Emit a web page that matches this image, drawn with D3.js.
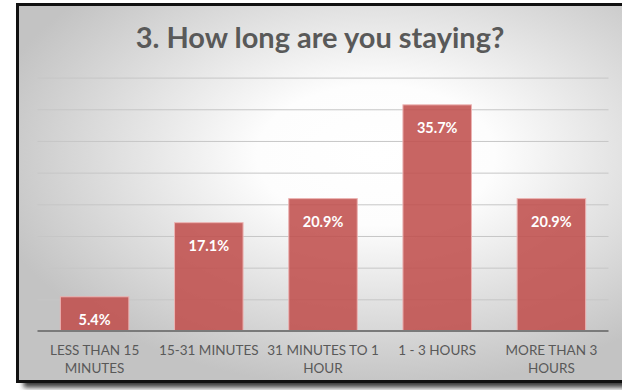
<!DOCTYPE html>
<html>
<head>
<meta charset="utf-8">
<script src="https://cdn.jsdelivr.net/npm/d3@7"></script>
<style>
  html, body { margin: 0; padding: 0; background: #ffffff; }
  svg { display: block; }
</style>
</head>
<body>
<svg id="chart" width="622" height="390"></svg>
<script>
// Survey question and answers
const chartTitle = "3. How long are you staying?";
const categories = ["LESS THAN 15 MINUTES", "15-31 MINUTES", "31 MINUTES TO 1 HOUR", "1 - 3 HOURS", "MORE THAN 3 HOURS"];
const shares = [5.4, 17.1, 20.9, 35.7, 20.9];
const gridTicks = [0, 5, 10, 15, 20, 25, 30, 35, 40];

const W = 622, H = 390;
const frame = { x: 17.5, y: 4.5, w: 640, h: 377 };
const plot = { left: 37.5, right: 608.5, top: 77.6, bottom: 331 };
const font = "Lato, 'Open Sans', sans-serif";

const svg = d3.select("#chart");
const defs = svg.append("defs");

// soft radial wash behind the chart
const bg = defs.append("radialGradient").attr("id", "bgWash")
  .attr("cx", "0.56").attr("cy", "0.4").attr("r", "0.62");
bg.append("stop").attr("offset", "0").attr("stop-color", "#ffffff");
bg.append("stop").attr("offset", "0.3").attr("stop-color", "#fdfdfd");
bg.append("stop").attr("offset", "1").attr("stop-color", "#c3c3c3");

const shadow = defs.append("filter").attr("id", "frameShadow")
  .attr("x", "-5%").attr("y", "-5%").attr("width", "115%").attr("height", "115%");
shadow.append("feGaussianBlur").attr("stdDeviation", 2.5);

// drop shadow under the frame
svg.append("rect")
  .attr("x", frame.x + 6).attr("y", frame.y + 6)
  .attr("width", frame.w).attr("height", frame.h)
  .attr("fill", "#3a3a3a").attr("filter", "url(#frameShadow)");

svg.append("rect")
  .attr("x", frame.x).attr("y", frame.y)
  .attr("width", frame.w).attr("height", frame.h)
  .attr("fill", "url(#bgWash)")
  .attr("stroke", "#111111").attr("stroke-width", 3);

const x = d3.scaleBand().domain(categories)
  .range([plot.left, plot.right]).paddingInner(0.4).paddingOuter(0.2);
const y = d3.scaleLinear().domain([0, 40]).range([plot.bottom, plot.top]);

// horizontal gridlines
svg.append("g")
  .attr("transform", `translate(${plot.left},0)`)
  .call(d3.axisLeft(y).tickValues(gridTicks.slice(1)).tickSize(-(plot.right - plot.left)).tickFormat(""))
  .call(g => g.select(".domain").remove())
  .call(g => g.selectAll(".tick line").attr("stroke", "#c6c6c6").attr("stroke-width", 1));

// bars
svg.append("g").selectAll("rect")
  .data(shares)
  .join("rect")
  .attr("x", (d, i) => x(categories[i]))
  .attr("y", d => y(d))
  .attr("width", x.bandwidth())
  .attr("height", d => y(0) - y(d))
  .attr("fill", "#c0504d").attr("fill-opacity", 0.88)
  .attr("stroke", "#ecb4b3").attr("stroke-width", 1);

// value labels inside the bar tops
svg.append("g").selectAll("text")
  .data(shares)
  .join("text")
  .attr("x", (d, i) => x(categories[i]) + x.bandwidth() / 2)
  .attr("y", d => y(d) + 28)
  .attr("text-anchor", "middle")
  .attr("font-family", font).attr("font-weight", 700).attr("font-size", 14.5)
  .attr("fill", "#ffffff")
  .text(d => d.toFixed(1) + "%");

// category axis
const xAxis = svg.append("g")
  .attr("transform", `translate(0,${plot.bottom})`)
  .call(d3.axisBottom(x).tickSize(0).tickPadding(14));
xAxis.select(".domain").attr("stroke", "#7a7a7a").attr("stroke-width", 2)
  .attr("d", `M${plot.left},0H${plot.right}`);
xAxis.selectAll(".tick text")
  .attr("font-family", font).attr("font-size", 13.5).attr("fill", "#595959")
  .call(wrap, x.step());

function wrap(texts, width) {
  texts.each(function () {
    const text = d3.select(this);
    const words = text.text().split(/\s+/);
    const dy = parseFloat(text.attr("dy")) || 0;
    text.text(null);
    let line = [];
    let tspan = text.append("tspan").attr("x", 0).attr("dy", dy + "em");
    for (const w of words) {
      line.push(w);
      tspan.text(line.join(" "));
      if (tspan.node().getComputedTextLength() > width - 2 && line.length > 1) {
        line.pop();
        tspan.text(line.join(" "));
        line = [w];
        tspan = text.append("tspan").attr("x", 0).attr("dy", "1.4em").text(w);
      }
    }
  });
}

// title
svg.append("text")
  .attr("x", 320).attr("y", 48)
  .attr("text-anchor", "middle")
  .attr("font-family", font).attr("font-weight", 700).attr("font-size", 29)
  .attr("fill", "#595959")
  .text(chartTitle);
</script>
</body>
</html>
